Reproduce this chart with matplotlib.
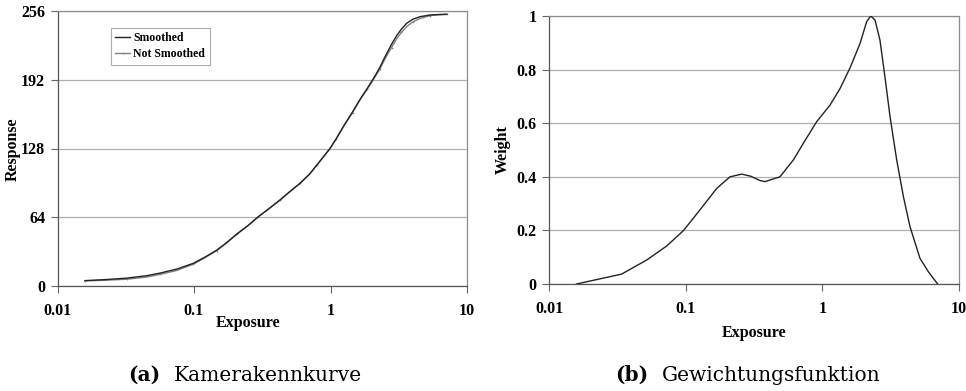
import matplotlib
matplotlib.use("Agg")
import matplotlib.pyplot as plt

# Camera response curve (exposure vs. pixel response)
exposure_resp = [0.0159, 0.022, 0.0321, 0.045, 0.0564, 0.075, 0.0988, 0.12, 0.147, 0.17,
                 0.206, 0.25, 0.296, 0.35, 0.427, 0.5, 0.598, 0.7, 0.793, 0.991, 1.1, 1.24,
                 1.45, 1.64, 1.85, 2.06, 2.3, 2.51, 2.8, 3.05, 3.3, 3.62, 4.0, 4.53, 5.36,
                 6.2, 7.10]
response_smoothed = [5.0, 5.9, 7.3, 9.6, 12.0, 15.8, 21.1, 26.8, 33.5, 39.5,
                     48.4, 56.5, 64.5, 71.5, 80.1, 87.5, 95.6, 104.0, 112.5, 128.0, 137.0, 148.3,
                     162.0, 173.5, 183.5, 193.0, 203.5, 213.5, 225.0, 233.0, 239.0, 244.6, 248.3,
                     250.7, 252.3, 252.7, 252.9]
response_raw = [4.8, 5.3, 6.3, 8.3, 10.8, 14.5, 20.3, 26.2, 33.0, 39.2,
                48.2, 56.5, 64.5, 71.5, 80.1, 87.5, 95.6, 103.8, 112.3, 127.8, 136.8, 148.0,
                161.5, 173.0, 183.0, 192.0, 202.0, 211.5, 222.0, 230.0, 236.0, 241.5, 245.8,
                249.0, 251.8, 252.5, 252.9]

# Weighting function
exposure_w = [0.0159, 0.034, 0.0519, 0.0727, 0.0962, 0.127, 0.169, 0.211, 0.257, 0.30,
              0.35, 0.38, 0.49, 0.614, 0.726, 0.91, 1.14, 1.35, 1.59, 1.89, 2.11, 2.26,
              2.43, 2.64, 2.87, 3.13, 3.50, 3.92, 4.38, 5.18, 5.96, 6.98]
weight = [0.0, 0.037, 0.0896, 0.142, 0.199, 0.276, 0.357, 0.400, 0.410, 0.402,
          0.386, 0.382, 0.400, 0.463, 0.525, 0.606, 0.668, 0.730, 0.805, 0.898, 0.979, 1.0,
          0.985, 0.910, 0.774, 0.624, 0.463, 0.326, 0.214, 0.096, 0.046, 0.0]

resp_ticks = [0, 64, 128, 192, 256]
weight_ticks = [0, 0.2, 0.4, 0.6, 0.8, 1]
weight_labels = ["0", "0.2", "0.4", "0.6", "0.8", "1"]
x_ticks = [0.01, 0.1, 1, 10]
x_labels = ["0.01", "0.1", "1", "10"]

serif = "Liberation Serif"
grid_col = "#b0b0b0"
frame_col = "#8c8c8c"

fig = plt.figure(figsize=(9.66, 3.91), dpi=100)
W, H = 966, 391


def axes_px(x0, y0, x1, y1):
    return fig.add_axes([x0 / W, 1 - y1 / H, (x1 - x0) / W, (y1 - y0) / H])


def style(ax, yticks, ylabels):
    ax.set_xscale("log")
    ax.set_xlim(0.01, 10)
    ax.set_xticks(x_ticks)
    ax.set_xticklabels(x_labels)
    ax.minorticks_off()
    ax.set_yticks(yticks)
    ax.set_yticklabels(ylabels)
    for s in ax.spines.values():
        s.set_color(frame_col)
        s.set_linewidth(0.9)
    ax.spines["left"].set_color("#555555")
    ax.spines["bottom"].set_color("#555555")
    ax.tick_params(axis="both", direction="out", length=5, width=0.8, color="#666666",
                   labelsize=11.5)
    ax.tick_params(axis="x", pad=7)
    ax.tick_params(axis="y", pad=4)
    for lab in ax.get_xticklabels() + ax.get_yticklabels():
        lab.set_fontfamily(serif)
        lab.set_fontweight("bold")
    ax.yaxis.grid(True, color=grid_col, linewidth=0.9)
    ax.set_axisbelow(True)


# (a) response curve
ax1 = axes_px(57.5, 11, 467, 286)
style(ax1, resp_ticks, [str(t) for t in resp_ticks])
ax1.set_ylim(0, 256)
ax1.plot(exposure_resp, response_raw, color="#808080", lw=1.0, marker="+", ms=2.0,
         mew=0.5, markevery=2, label="Not Smoothed", zorder=3)
ax1.plot(exposure_resp, response_smoothed, color="#222222", lw=1.0, label="Smoothed", zorder=4)
handles, labels = ax1.get_legend_handles_labels()
leg = ax1.legend(handles[::-1], labels[::-1], loc="upper left", bbox_to_anchor=(0.13, 0.94),
                 borderaxespad=0,
                 prop={"family": serif, "weight": "bold", "size": 8.5}, frameon=True,
                 fancybox=False, edgecolor="#999999", handlelength=1.2, handletextpad=0.3,
                 borderpad=0.4, labelspacing=0.35)
leg.get_frame().set_linewidth(0.8)
fig.text(248 / W, 1 - 323 / H, "Exposure", ha="center", va="center",
         family=serif, weight="bold", size=11.5)
fig.text(13 / W, 1 - 149 / H, "Response", ha="center", va="center", rotation=90,
         family=serif, weight="bold", size=11.5)

# (b) weighting function
ax2 = axes_px(549, 16, 959, 284)
style(ax2, weight_ticks, weight_labels)
ax2.set_ylim(0, 1)
ax2.plot(exposure_w, weight, color="#222222", lw=1.0, zorder=3)
fig.text(754 / W, 1 - 333 / H, "Exposure", ha="center", va="center",
         family=serif, weight="bold", size=11.5)
fig.text(503 / W, 1 - 150 / H, "Weight", ha="center", va="center", rotation=90,
         family=serif, weight="bold", size=11.5)

# sub-captions: bold tag followed by the caption text
cap_font = "DejaVu Serif"
cap_size = 14.5
for xc, tag, txt in [(245, "(a)", "Kamerakennkurve"), (748, "(b)", "Gewichtungsfunktion")]:
    a = fig.text(0, 1 - 381 / H, tag, ha="left", va="baseline",
                 family=cap_font, weight="bold", size=cap_size)
    b = fig.text(0, 1 - 381 / H, txt, ha="left", va="baseline",
                 family=cap_font, size=cap_size)
    fig.canvas.draw()
    wa = a.get_window_extent().width
    wb = b.get_window_extent().width
    gap = 14
    x0 = xc - (wa + gap + wb) / 2
    a.set_x(x0 / W)
    b.set_x((x0 + wa + gap) / W)

fig.savefig("out.png", dpi=100)
